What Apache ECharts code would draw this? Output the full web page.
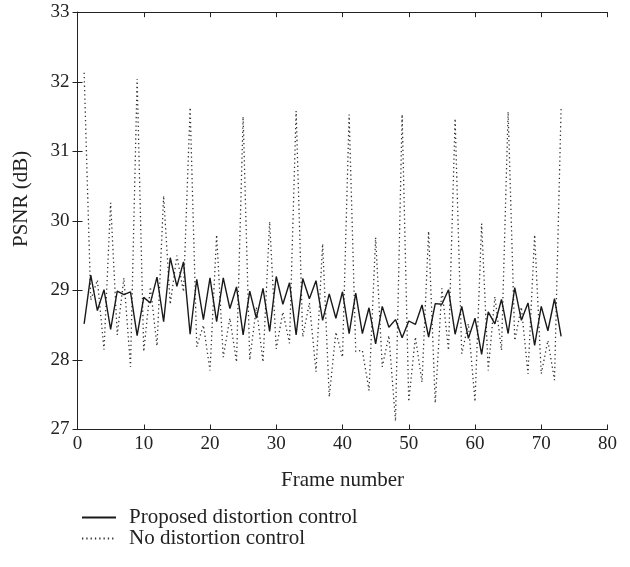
<!DOCTYPE html>
<html>
<head>
<meta charset="utf-8">
<script src="https://cdn.jsdelivr.net/npm/echarts@6/dist/echarts.min.js"></script>
<style>html,body{margin:0;padding:0;background:#fff;}#c{width:630px;height:567px;}</style>
</head>
<body>
<div id="c"></div>
<script>
const frames = [];
for (let i = 1; i <= 73; i++) frames.push(i);
const proposed = [28.52,29.22,28.71,29.01,28.44,28.99,28.94,28.98,28.35,28.90,
  28.82,29.19,28.55,29.47,29.06,29.41,28.37,29.16,28.58,29.18,
  28.55,29.18,28.74,29.05,28.36,28.99,28.60,29.03,28.41,29.20,
  28.80,29.11,28.36,29.17,28.88,29.14,28.57,28.95,28.60,28.98,
  28.38,28.96,28.38,28.75,28.23,28.77,28.47,28.58,28.32,28.56,
  28.51,28.79,28.33,28.81,28.80,29.01,28.37,28.77,28.31,28.60,
  28.08,28.69,28.52,28.87,28.38,29.04,28.57,28.82,28.21,28.77,
  28.42,28.88,28.34];
const noControl = [32.13,28.86,29.15,28.15,30.26,28.36,29.18,27.90,32.04,28.12,
  29.05,28.20,30.36,28.80,29.50,28.98,31.63,28.19,28.50,27.85,
  29.80,28.04,28.60,27.97,31.50,28.00,28.76,27.97,29.99,28.16,
  28.69,28.24,31.58,28.33,28.82,27.83,29.67,27.47,28.40,28.04,
  31.53,28.12,28.14,27.56,29.76,27.90,28.35,27.12,31.53,27.40,
  28.33,27.68,29.85,27.38,29.03,28.14,31.47,28.09,28.52,27.40,
  29.96,27.85,28.91,28.14,31.57,28.28,28.76,27.80,29.80,27.80,
  28.28,27.71,31.64];
const seriesNames = ['Proposed distortion control','No distortion control'];
const xTitle = 'Frame number';
const yTitle = 'PSNR (dB)';

const font = 'Liberation Serif';
const chart = echarts.init(document.getElementById('c'));
const axisLineStyle = {show:true, lineStyle:{color:'#222', width:1}};
const tickIn = {show:true, inside:true, length:5, lineStyle:{color:'#222', width:1}};
chart.setOption({
  animation:false,
  backgroundColor:'#fff',
  grid:{left:77.5, right:22.5, top:12.2, bottom:137.5},
  legend:{
    orient:'vertical', left:76, top:502, itemGap:0, itemWidth:34, itemHeight:10,
    itemStyle:{opacity:0},
    textStyle:{fontFamily:font, fontSize:21, color:'#222', padding:[0,0,0,8]},
    data:seriesNames
  },
  xAxis:[{
    type:'value', min:0, max:80, interval:10,
    axisLine:axisLineStyle, axisTick:tickIn, splitLine:{show:false},
    axisLabel:{fontFamily:font, fontSize:19, color:'#222', margin:5},
    name:xTitle, nameLocation:'middle', nameGap:40,
    nameTextStyle:{fontFamily:font, fontSize:21, color:'#222'}
  },{
    type:'value', min:0, max:80, interval:10, position:'top',
    axisLine:axisLineStyle, axisTick:tickIn, splitLine:{show:false},
    axisLabel:{show:false}
  }],
  yAxis:[{
    type:'value', min:27, max:33, interval:1,
    axisLine:axisLineStyle, axisTick:tickIn, splitLine:{show:false},
    axisLabel:{fontFamily:font, fontSize:19, color:'#222', margin:8},
    name:yTitle, nameLocation:'middle', nameGap:46, nameRotate:90,
    nameTextStyle:{fontFamily:font, fontSize:21, color:'#222', padding:[0,0,0,44]}
  },{
    type:'value', min:27, max:33, interval:1, position:'right',
    axisLine:axisLineStyle, axisTick:tickIn, splitLine:{show:false},
    axisLabel:{show:false}
  }],
  series:[{
    name:seriesNames[0], type:'line', symbol:'none',
    data:frames.map((f,i)=>[f, proposed[i]]),
    lineStyle:{color:'#1a1a1a', width:1.4}, itemStyle:{color:'#1a1a1a'}, z:3
  },{
    name:seriesNames[1], type:'line', symbol:'none',
    data:frames.map((f,i)=>[f, noControl[i]]),
    lineStyle:{color:'#333', width:1.3, type:[1.3,3]}, itemStyle:{color:'#333'}, z:2
  }]
});
</script>
</body>
</html>
